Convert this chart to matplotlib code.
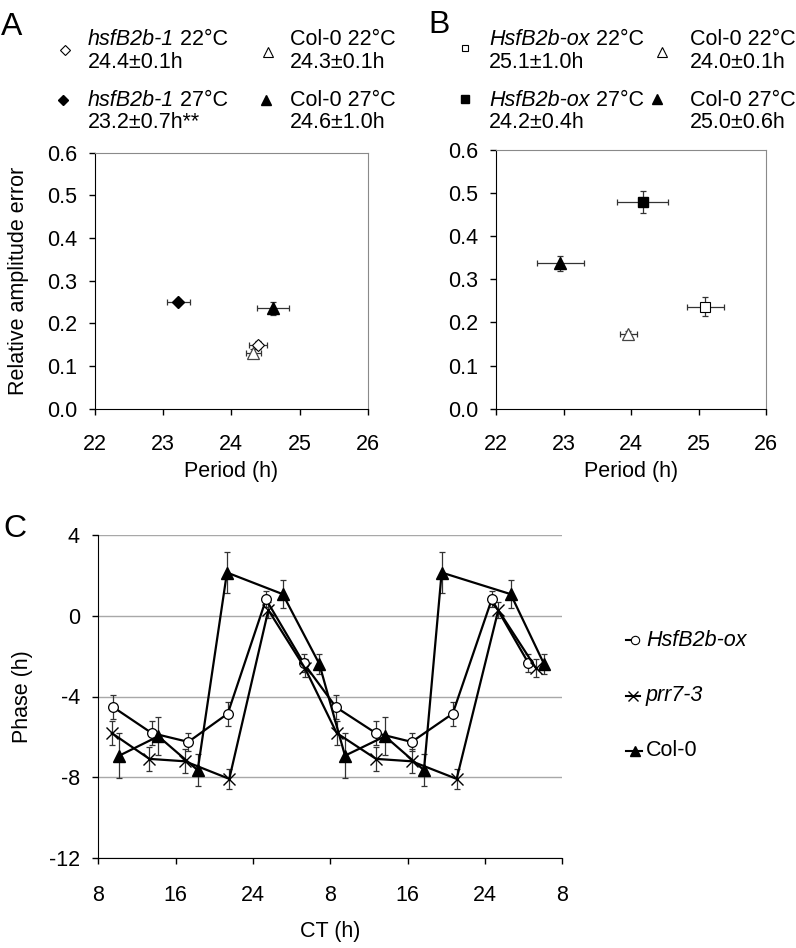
import numpy as np
import matplotlib
matplotlib.use("Agg")
import matplotlib.pyplot as plt
from matplotlib.lines import Line2D

plt.rcParams['font.family'] = ['Liberation Sans', 'DejaVu Sans']
plt.rcParams['font.size'] = 15.5
plt.rcParams['axes.unicode_minus'] = False

W, H = 796, 948

# ---------------- data ----------------
# panel A: period (h), relative amplitude error
a_names = ["hsfB2b-1 22", "Col-0 22", "hsfB2b-1 27", "Col-0 27"]
a_period = [24.39, 24.32, 23.22, 24.61]
a_period_err = [0.13, 0.11, 0.17, 0.24]
a_rae = [0.149, 0.131, 0.251, 0.235]
a_rae_err = [0.010, 0.010, 0.005, 0.016]

# panel B
b_names = ["HsfB2b-ox 22", "Col-0 22", "HsfB2b-ox 27", "Col-0 27"]
b_period = [25.10, 23.96, 24.17, 22.95]
b_period_err = [0.27, 0.13, 0.38, 0.35]
b_rae = [0.236, 0.173, 0.480, 0.337]
b_rae_err = [0.022, 0.008, 0.026, 0.018]

# panel C: phase vs CT (double plotted)
ox_ct = [9.55, 13.52, 17.31, 21.39, 25.35, 29.25, 32.59, 36.70, 40.42, 44.66, 48.70, 52.50]
ox_phase = [-4.53, -5.81, -6.25, -4.85, 0.81, -2.35] * 2
ox_err = [0.6, 0.6, 0.45, 0.6, 0.4, 0.45] * 2

prr_ct = [9.39, 13.28, 16.97, 21.55, 25.59, 29.38, 32.66, 36.73, 40.42, 45.07, 49.38, 53.28]
prr_phase = [-5.81, -7.09, -7.21, -8.08, 0.28, -2.60] * 2
prr_err = [0.6, 0.6, 0.6, 0.5, 0.4, 0.45] * 2

col_ct = [10.17, 14.21, 18.28, 21.31, 27.08, 30.86, 33.52, 37.66, 41.69, 43.52, 50.66, 54.10]
col_phase = [-6.93, -5.97, -7.65, 2.14, 1.07, -2.38] * 2
col_err = [1.1, 0.95, 0.8, 1.0, 0.7, 0.5] * 2

ct_ticks = [8, 16, 24, 32, 40, 48, 56]
ct_labels = ["8", "16", "24", "8", "16", "24", "8"]


def fx(px):
    return px / W


def fy(py):
    return 1 - py / H


fig = plt.figure(figsize=(W / 100, H / 100), dpi=100)

ebkw = dict(ecolor="#333333", elinewidth=0.9, capsize=2, capthick=0.9, linestyle="none")


def style_scatter_ax(ax):
    ax.set_xlim(22, 26)
    ax.set_ylim(0, 0.6)
    ax.set_xticks([22, 23, 24, 25, 26])
    ax.set_yticks(np.arange(0, 0.61, 0.1))
    ax.set_yticklabels([f"{v:.1f}" for v in np.arange(0, 0.61, 0.1)])
    ax.tick_params(axis="x", direction="out", length=4.3, width=1, pad=14)
    ax.tick_params(axis="y", direction="out", length=4.0, width=1, pad=9)
    for s in ["top", "right"]:
        ax.spines[s].set_color("#8a8a8a")
    for s in ["left", "bottom"]:
        ax.spines[s].set_color("black")
    ax.set_xlabel("Period (h)", labelpad=4)


# ---------------- panel A ----------------
axA = fig.add_axes([fx(95), fy(408.7), (367.7 - 95) / W, (408.7 - 152.7) / H])
style_scatter_ax(axA)
a_style = [
    dict(marker="D", ms=6, mfc="white", mec="black", mew=0.8),
    dict(marker="^", ms=8, mfc="white", mec="#444444", mew=0.9),
    dict(marker="D", ms=6, mfc="black", mec="black"),
    dict(marker="^", ms=8.5, mfc="black", mec="black"),
]
for i in [2, 3, 1, 0]:
    axA.errorbar(a_period[i], a_rae[i], xerr=a_period_err[i], yerr=a_rae_err[i], **ebkw, zorder=2)
    axA.plot(a_period[i], a_rae[i], linestyle="none", zorder=3, **a_style[i])
axA.set_ylabel("Relative amplitude error", labelpad=13)

# ---------------- panel B ----------------
axB = fig.add_axes([fx(496.3), fy(408.7), (766 - 496.3) / W, (408.7 - 150) / H])
style_scatter_ax(axB)
b_style = [
    dict(marker="s", ms=7, mfc="white", mec="black", mew=0.8),
    dict(marker="^", ms=8, mfc="white", mec="#444444", mew=0.9),
    dict(marker="s", ms=7.5, mfc="black", mec="black"),
    dict(marker="^", ms=8.5, mfc="black", mec="black"),
]
for i in range(4):
    axB.errorbar(b_period[i], b_rae[i], xerr=b_period_err[i], yerr=b_rae_err[i], **ebkw, zorder=2)
    axB.plot(b_period[i], b_rae[i], linestyle="none", zorder=3, **b_style[i])

# ---------------- panel C ----------------
axC = fig.add_axes([fx(98.3), fy(858), (562.3 - 98.3) / W, (858 - 535) / H])
axC.set_xlim(8, 56)
axC.set_ylim(-12, 4)
axC.set_xticks(ct_ticks)
axC.set_xticklabels(ct_labels)
axC.set_yticks([-12, -8, -4, 0, 4])
axC.yaxis.grid(True, color="#a8a8a8", lw=1)
axC.set_axisbelow(True)
axC.spines["top"].set_visible(False)
axC.spines["right"].set_visible(False)
axC.tick_params(axis="x", direction="out", length=4.3, width=1, pad=15)
axC.tick_params(axis="y", direction="out", length=4.3, width=1, pad=9)
axC.set_xlabel("CT (h)", labelpad=11)
axC.set_ylabel("Phase (h)", labelpad=11)

series = [
    (ox_ct, ox_phase, ox_err, dict(marker="o", ms=7, mfc="white", mec="black", mew=0.9)),
    (prr_ct, prr_phase, prr_err, dict(marker="x", ms=8, mec="black", mew=1.0)),
    (col_ct, col_phase, col_err, dict(marker="^", ms=8.5, mfc="black", mec="black")),
]
for x, y, e, st in series:
    axC.errorbar(x, y, yerr=e, **ebkw, zorder=2)
    axC.plot(x, y, color="black", lw=1.6, zorder=3, **st)

# ---------------- legends / labels ----------------
renderer = fig.canvas.get_renderer()


def mixed_text(px, py, ital, rest):
    t = fig.text(fx(px), fy(py), ital, style="italic", va="baseline", ha="left")
    bb = t.get_window_extent(renderer=renderer)
    fig.text(bb.x1 / W, fy(py), rest, va="baseline", ha="left")


def marker_at(px, py, **kw):
    fig.add_artist(Line2D([fx(px)], [fy(py)], transform=fig.transFigure, linestyle="none", **kw))


# panel letters
fig.text(fx(1), fy(35), "A", fontsize=23, va="baseline")
fig.text(fx(428), fy(33), "B", fontsize=23, va="baseline")
fig.text(fx(3), fy(537), "C", fontsize=23, va="baseline")

r1a, r1b, r2a, r2b = 45, 67.5, 106.5, 128

# legend A
marker_at(65, 50, marker="D", ms=5, mfc="white", mec="black", mew=0.8)
mixed_text(88, r1a, "hsfB2b-1", " 22°C")
fig.text(fx(88), fy(r1b), "24.4±0.1h", va="baseline")
marker_at(268, 52, marker="^", ms=6.5, mfc="white", mec="black", mew=0.8)
fig.text(fx(290), fy(r1a), "Col-0 22°C", va="baseline")
fig.text(fx(290), fy(r1b), "24.3±0.1h", va="baseline")
marker_at(63, 100, marker="D", ms=5, mfc="black", mec="black")
mixed_text(88, r2a, "hsfB2b-1", " 27°C")
fig.text(fx(88), fy(r2b), "23.2±0.7h**", va="baseline")
marker_at(266, 100, marker="^", ms=6.5, mfc="black", mec="black")
fig.text(fx(290), fy(r2a), "Col-0 27°C", va="baseline")
fig.text(fx(290), fy(r2b), "24.6±1.0h", va="baseline")

# legend B
marker_at(465, 48, marker="s", ms=5, mfc="white", mec="black", mew=0.8)
mixed_text(489, r1a, "HsfB2b-ox", " 22°C")
fig.text(fx(489), fy(r1b), "25.1±1.0h", va="baseline")
marker_at(662, 52, marker="^", ms=6.5, mfc="white", mec="black", mew=0.8)
fig.text(fx(690), fy(r1a), "Col-0 22°C", va="baseline")
fig.text(fx(690), fy(r1b), "24.0±0.1h", va="baseline")
marker_at(465, 99, marker="s", ms=5.5, mfc="black", mec="black")
mixed_text(489, r2a, "HsfB2b-ox", " 27°C")
fig.text(fx(489), fy(r2b), "24.2±0.4h", va="baseline")
marker_at(657, 99, marker="^", ms=6.5, mfc="black", mec="black")
fig.text(fx(690), fy(r2a), "Col-0 27°C", va="baseline")
fig.text(fx(690), fy(r2b), "25.0±0.6h", va="baseline")

# legend C
leg_c = [
    ("HsfB2b-ox", True, 640, 626, 633, 635, dict(marker="o", ms=6, mfc="white", mec="black", mew=0.8)),
    ("prr7-3", True, 696, 626, 640, 633, dict(marker="x", ms=7, mec="black", mew=1.0)),
    ("Col-0", False, 750.7, 626, 642, 635, dict(marker="^", ms=7, mfc="black", mec="black")),
]
for label, ital, py, l0, l1, mx, st in leg_c:
    fig.add_artist(Line2D([fx(l0), fx(l1)], [fy(py), fy(py)], transform=fig.transFigure,
                          color="black", lw=1.5))
    marker_at(mx, py, **st)
    fig.text(fx(646), fy(py), label, style="italic" if ital else "normal", va="center")

fig.savefig("out.png", dpi=100)
